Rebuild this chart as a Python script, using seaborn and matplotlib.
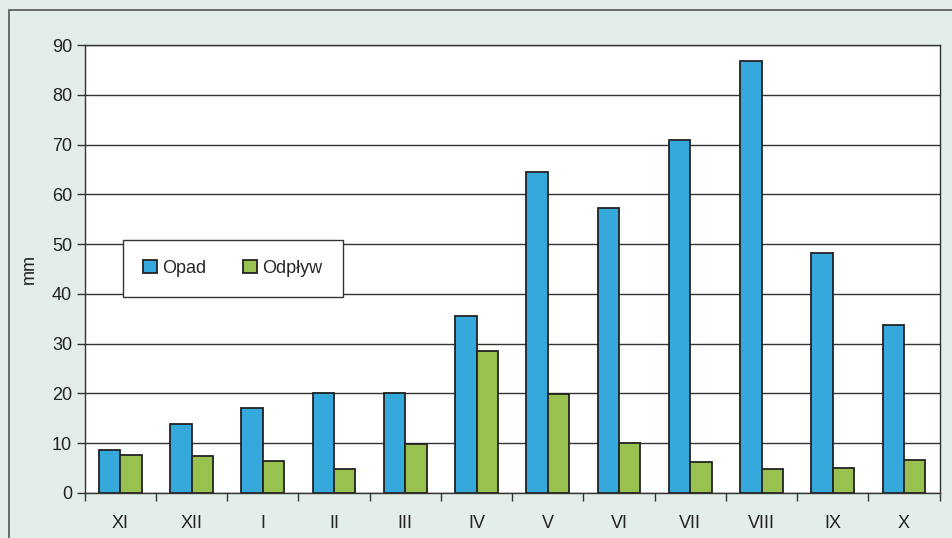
import matplotlib
matplotlib.use("Agg")
import matplotlib.pyplot as plt
from matplotlib.patches import Rectangle
from matplotlib.ticker import FixedLocator
import numpy as np
import pandas as pd
import seaborn as sns

# Monthly precipitation and runoff over a hydrological year (mm)
months = ["XI", "XII", "I", "II", "III", "IV", "V", "VI", "VII", "VIII", "IX", "X"]
opad = [8.6, 13.8, 17.1, 20.1, 20.1, 35.5, 64.6, 57.2, 70.9, 86.9, 48.3, 33.7]
odplyw = [7.6, 7.4, 6.4, 4.8, 9.8, 28.5, 19.8, 10.0, 6.2, 4.8, 5.0, 6.5]
series_names = ["Opad", "Odpływ"]
colors = ["#35a8dc", "#99c14f"]

df = pd.DataFrame({
    "miesiac": months * 2,
    "mm": opad + odplyw,
    "seria": [series_names[0]] * len(months) + [series_names[1]] * len(months),
})

sns.set_theme(style="white")
plt.rcParams["font.family"] = ["Liberation Sans", "DejaVu Sans"]

fig = plt.figure(figsize=(9.52, 5.38), dpi=100)
fig.patch.set_facecolor("#e4eee9")
ax = fig.add_axes([0.089, 0.084, 0.898, 0.832])
ax.set_facecolor("white")

# outer chart frame
fig.patches.append(Rectangle((9 / 952, -0.01), 1.1, 1 - 10 / 538 + 0.01,
                             transform=fig.transFigure, fill=False,
                             edgecolor="#555555", linewidth=1.2, zorder=0))

sns.barplot(data=df, x="miesiac", y="mm", hue="seria", order=months,
            hue_order=series_names, palette=colors, width=0.6,
            edgecolor="#222222", linewidth=1.3, saturation=1, ax=ax, zorder=3)

ax.set_ylim(0, 90)
ax.set_xlim(-0.5, len(months) - 0.5)
ax.set_yticks(np.arange(0, 91, 10))
ax.yaxis.grid(True, color="#333333", linewidth=1.0)
ax.set_axisbelow(True)

# tick marks at category boundaries, labels at category centres
ax.xaxis.set_major_locator(FixedLocator(np.arange(-0.5, len(months), 1.0)))
ax.xaxis.set_major_formatter(plt.NullFormatter())
ax.xaxis.set_minor_locator(FixedLocator(np.arange(len(months))))
ax.set_xticks(np.arange(len(months)), labels=months, minor=True)
ax.tick_params(axis="x", which="major", direction="out", length=6, width=1,
               color="#333333", bottom=True)
ax.tick_params(axis="x", which="minor", length=0, pad=16, labelsize=13,
               labelcolor="#222222")
ax.tick_params(axis="y", direction="out", length=6, width=1, color="#333333",
               left=True, pad=3, labelsize=13, labelcolor="#222222")

for side in ["left", "right", "top", "bottom"]:
    ax.spines[side].set_visible(True)
    ax.spines[side].set_color("#333333")
    ax.spines[side].set_linewidth(1.0)

ax.set_xlabel("")
ax.set_ylabel("mm", fontsize=13, color="#222222", labelpad=10)

leg = ax.legend(loc="center", bbox_to_anchor=(0.173, 0.502), ncol=2,
                frameon=True, fancybox=False, fontsize=13, title=None,
                handlelength=0.8, handleheight=0.8, handletextpad=0.3,
                columnspacing=2.0, borderpad=1.1)
leg.get_frame().set_edgecolor("#333333")
leg.get_frame().set_linewidth(1.0)
leg.get_frame().set_facecolor("white")
leg.get_frame().set_alpha(1)

fig.savefig("out.png", dpi=100, facecolor=fig.get_facecolor())
